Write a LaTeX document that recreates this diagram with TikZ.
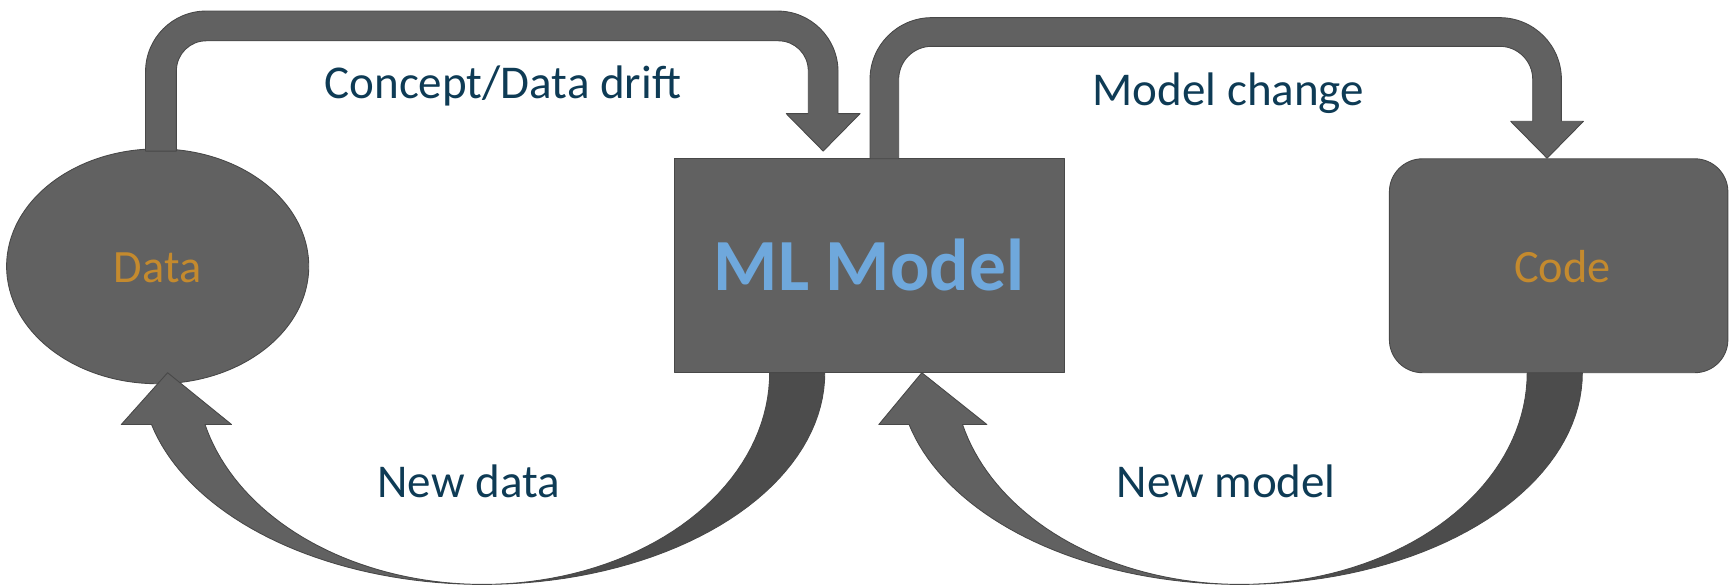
\documentclass[tikz,border=0pt]{standalone}
\usepackage{fontspec}
\setmainfont{Carlito}
\usetikzlibrary{shapes.geometric}
\definecolor{boxgray}{HTML}{616161}
\definecolor{backgray}{HTML}{4C4C4C}
\definecolor{edgegray}{HTML}{484848}
\definecolor{labelteal}{HTML}{0E3B55}
\definecolor{nodeorange}{HTML}{C48A2E}
\definecolor{mlblue}{HTML}{6FA8DC}
\tikzset{
  shapefill/.style={fill=boxgray, draw=edgegray, line width=0.6pt, line join=round},
  backfill/.style={fill=backgray, draw=edgegray, line width=0.6pt, line join=round},
  flowlabel/.style={text=labelteal, font=\fontsize{32pt}{36pt}\selectfont, anchor=base, inner sep=0pt},
  nodetext/.style={text=nodeorange, font=\fontsize{31.5pt}{36pt}\selectfont, anchor=base, inner sep=0pt},
}
\begin{document}
\begin{tikzpicture}[x=0.75pt, y=-0.75pt]
\useasboundingbox (0,0) rectangle (1568,530.5);

% nodes (shapes)
\node[ellipse, shapefill, minimum width=205.5pt, minimum height=159.75pt, inner sep=0pt] (data) at (143,241.5) {};
\node[rectangle, shapefill, minimum width=264.75pt, minimum height=145.5pt, inner sep=0pt] (ml) at (788.5,241) {};
\node[rectangle, rounded corners=22.5pt, shapefill, minimum width=230.25pt, minimum height=145.5pt, inner sep=0pt] (code) at (1413.5,241) {};

% top-left bent arrow: Data -> ML Model
\path[shapefill] (132,137) -- (132,65) .. controls (132,34.6) and (156.6,10) .. (187,10)
  -- (705,10) .. controls (735.4,10) and (760,34.6) .. (760,65)
  -- (760,103) -- (780,103) -- (746.5,137) -- (713,103) -- (733,103)
  -- (733,64) .. controls (733,49.1) and (720.9,37) .. (706,37)
  -- (187,37) .. controls (172.1,37) and (160,49.1) .. (160,64)
  -- (160,137) -- cycle;

% top-right bent arrow: ML Model -> Code
\path[shapefill] (789,144) -- (789,72) .. controls (789,41.1) and (814.1,16) .. (845,16)
  -- (1360,16) .. controls (1390.9,16) and (1416,41.1) .. (1416,72)
  -- (1416,110) -- (1436,110) -- (1403,143.5) -- (1370,110) -- (1390,110)
  -- (1390,72) .. controls (1390,55.4) and (1376.6,42) .. (1360,42)
  -- (845,42) .. controls (828.4,42) and (815,55.4) .. (815,72)
  -- (815,144) -- cycle;

% bottom-left curved arrow: ML Model -> Data
\path[backfill] plot[domain=0:90, samples=40] ({438+310*cos(\x)},{338+192*sin(\x)})
  -- plot[domain=90:0, samples=40] ({438+260*cos(\x)},{338+192*sin(\x)}) -- cycle;
\path[shapefill] plot[domain=165.83:90, samples=40] ({438+310*cos(\x)},{338+192*sin(\x)})
  -- plot[domain=90:165.83, samples=40] ({438+260*cos(\x)},{338+192*sin(\x)})
  -- (210,385) -- (152,338) -- (110,385) -- cycle;

% bottom-right curved arrow: Code -> ML Model
\path[backfill] plot[domain=0:90, samples=40] ({1125+310*cos(\x)},{338+192*sin(\x)})
  -- plot[domain=90:0, samples=40] ({1125+260*cos(\x)},{338+192*sin(\x)}) -- cycle;
\path[shapefill] plot[domain=165.83:90, samples=40] ({1125+310*cos(\x)},{338+192*sin(\x)})
  -- plot[domain=90:165.83, samples=40] ({1125+260*cos(\x)},{338+192*sin(\x)})
  -- (895,385) -- (836,338) -- (797,385) -- cycle;

% texts
\node[nodetext] (datatext) at (143,256) {Data};
\node[nodetext] (codetext) at (1417,256) {Code};
\node[anchor=base, inner sep=0pt, text=mlblue, font=\fontsize{50pt}{56pt}\selectfont\bfseries] (mltext) at (788,263.5) {ML Model};
\node[flowlabel] (drift) at (456,89) {Concept/Data drift};
\node[flowlabel] (change) at (1114,96) {Model change};
\node[flowlabel] (newdata) at (425,451) {New data};
\node[flowlabel] (newmodel) at (1112,451) {New model};
\end{tikzpicture}
\end{document}
